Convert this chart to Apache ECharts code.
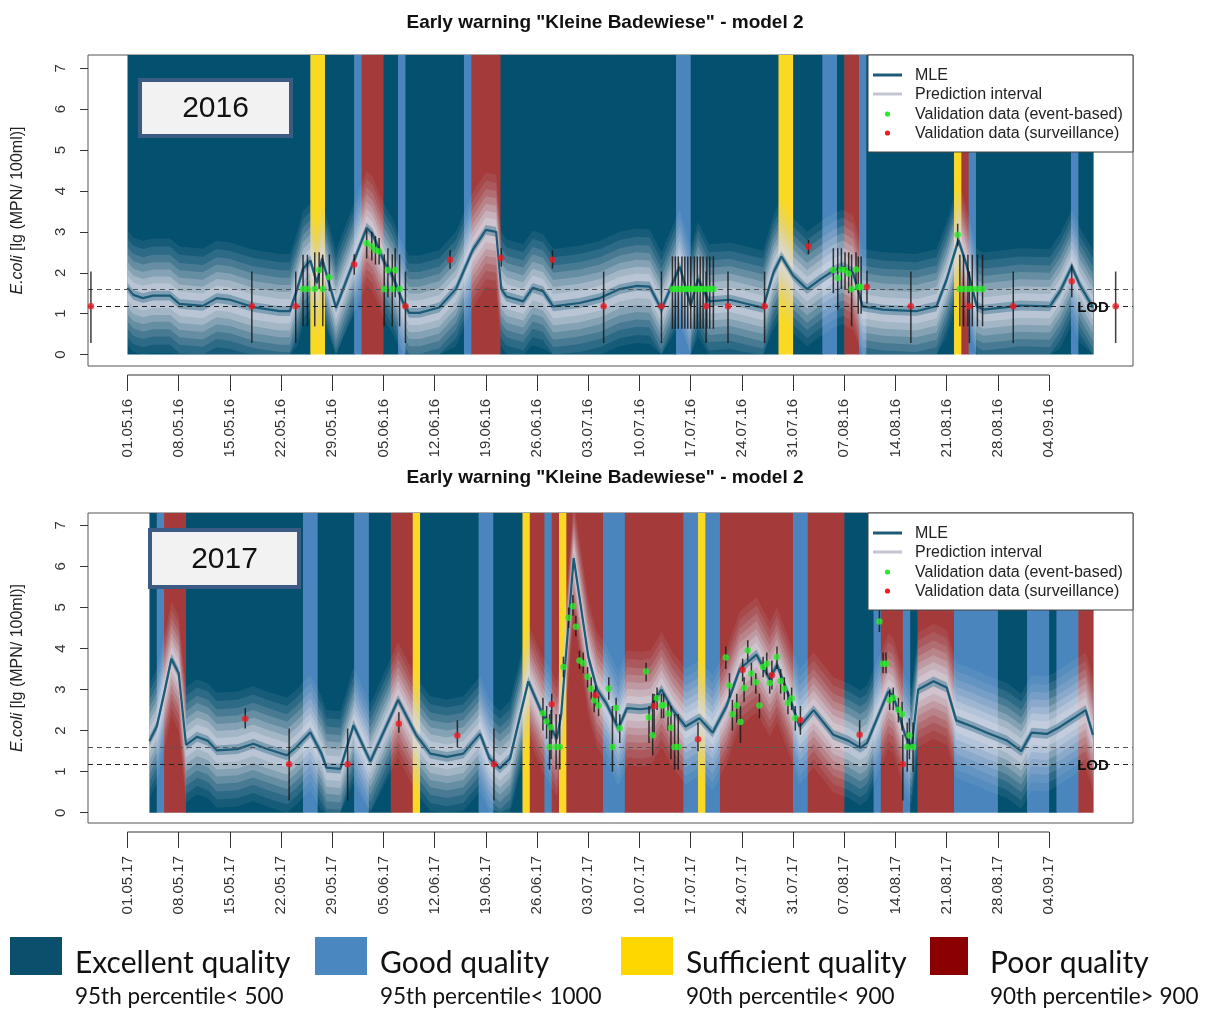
<!DOCTYPE html>
<html><head><meta charset="utf-8">
<script src="https://cdn.jsdelivr.net/npm/echarts@6/dist/echarts.min.js"></script>
<style>html,body{margin:0;padding:0;background:#fff}#c{width:1210px;height:1009px}</style>
</head><body><div id="c"></div>
<script>
// ---------------- DATA ----------------
const chartTitle = 'Early warning "Kleine Badewiese" - model 2';
const yearLabels = ['2016', '2017'];
const tickDays = [0, 7, 14, 21, 28, 35, 42, 49, 56, 63, 70, 77, 84, 91, 98, 105, 112, 119, 126];
const tickLabels2016 = ['01.05.16','08.05.16','15.05.16','22.05.16','29.05.16','05.06.16','12.06.16','19.06.16','26.06.16','03.07.16','10.07.16','17.07.16','24.07.16','31.07.16','07.08.16','14.08.16','21.08.16','28.08.16','04.09.16'];
const tickLabels2017 = ['01.05.17','08.05.17','15.05.17','22.05.17','29.05.17','05.06.17','12.06.17','19.06.17','26.06.17','03.07.17','10.07.17','17.07.17','24.07.17','31.07.17','07.08.17','14.08.17','21.08.17','28.08.17','04.09.17'];
const yTicks = [0, 1, 2, 3, 4, 5, 6, 7];
const refLines = [1.6, 1.18];          // upper dashed line, LOD line
const LOD = 1.18;

const classNames = ['Excellent quality', 'Good quality', 'Sufficient quality', 'Poor quality'];
const classNotes = ['95th percentile< 500', '95th percentile< 1000', '90th percentile< 900', '90th percentile> 900'];
const legendLabels = ['MLE', 'Prediction interval', 'Validation data (event-based)', 'Validation data (surveillance)'];

// quality class bands: [startDay, endDay, classIndex] (day 0 = 01.05.)
const bands2016 = [[0,25,0],[25,27,2],[27,31,0],[31,32,1],[32,35,3],[35,37,0],[37,38,1],[38,46,0],[46,47,1],[47,51,3],[51,75,0],[75,77,1],[77,89,0],[89,91,2],[91,95,0],[95,97,1],[97,98,0],[98,100,3],[100,101,1],[101,113,0],[113,114,2],[114,115,3],[115,116,1],[116,129,0],[129,130,1],[130,132,0]];
const bands2017 = [[3,4,0],[4,5,1],[5,8,3],[8,24,0],[24,26,1],[26,31,0],[31,33,1],[33,36,0],[36,39,3],[39,40,2],[40,48,0],[48,50,1],[50,54,0],[54,55,2],[55,57,3],[57,58,1],[58,59,3],[59,60,2],[60,65,3],[65,68,1],[68,76,3],[76,78,1],[78,79,2],[79,81,1],[81,91,3],[91,93,1],[93,98,3],[98,102,0],[102,103,1],[103,106,3],[106,107,1],[107,108,0],[108,113,3],[113,119,1],[119,123,0],[123,126,1],[126,127,0],[127,130,1],[130,132,3]];

// MLE: [day, lg value]
const mle2016 = [[0,1.63],[0.8,1.46],[2.1,1.38],[3.5,1.44],[5.8,1.44],[7.1,1.24],[10.3,1.19],[12.2,1.38],[14.0,1.34],[15.4,1.26],[17.2,1.16],[20.8,1.06],[22.2,1.06],[23.2,1.6],[24.0,2.1],[25.0,2.3],[25.9,1.75],[26.6,2.35],[28.5,1.15],[32.7,3.1],[33.5,2.95],[35.0,2.3],[36.3,1.9],[37.6,1.3],[38.5,1.02],[39.9,1.02],[42.6,1.15],[44.9,1.6],[47.2,2.56],[49.0,3.05],[50.4,3.0],[51.1,1.6],[51.8,1.42],[54.1,1.3],[55.4,1.63],[56.8,1.55],[58.2,1.18],[61.8,1.26],[64.6,1.38],[67.3,1.6],[69.6,1.68],[71.4,1.66],[73.0,1.1],[75.5,2.15],[77.0,1.2],[78.0,1.85],[79.5,1.3],[82.4,1.34],[84.2,1.26],[86.9,1.14],[88.3,2.0],[89.4,2.4],[91.0,1.93],[92.9,1.6],[94.7,1.84],[96.5,2.05],[97.8,2.15],[99.2,2.0],[100.5,1.18],[103.3,1.1],[107.8,1.06],[110.6,1.18],[112.0,1.84],[113.6,2.8],[114.7,2.2],[116.1,1.18],[117.0,1.1],[120.2,1.16],[122.0,1.2],[126.1,1.18],[127.5,1.55],[129.1,2.15],[130.2,1.7],[132.0,1.15]];
const mle2017 = [[3,1.75],[4,2.1],[5,2.9],[6,3.75],[7,3.4],[8,1.65],[9.5,1.85],[11,1.75],[12.2,1.52],[15,1.55],[17.2,1.68],[19,1.56],[21.8,1.4],[23.1,1.6],[25,1.96],[26.5,1.45],[27.2,1.1],[29.1,1.07],[30.9,2.13],[33.2,1.25],[37,2.75],[39.5,1.88],[41.4,1.44],[43.7,1.36],[45.9,1.44],[48.2,1.92],[49.5,1.32],[50.9,1.08],[52.3,1.32],[54.8,3.2],[56.6,2.45],[57.8,2.1],[58.7,1.8],[59.3,2.4],[61,6.2],[62,5.0],[63,3.8],[64.2,3.0],[65.5,2.65],[67.1,2.05],[68.3,2.55],[70.1,2.52],[71.5,2.55],[73,3.0],[74.6,2.49],[76.3,2.1],[78.2,2.3],[80,1.95],[81.9,2.6],[83.7,3.5],[86,3.85],[87.8,3.25],[88.8,3.6],[90.3,2.9],[91.9,2.1],[93.8,2.5],[96.5,1.9],[98.6,1.75],[100.2,1.58],[101.1,1.7],[104,2.95],[104.7,2.85],[106.3,1.9],[107.2,1.6],[108.1,3.0],[110.2,3.2],[112,3.05],[113.3,2.25],[115.5,2.1],[117.5,1.95],[120.2,1.76],[122.2,1.5],[123.6,1.95],[125.7,1.92],[127.1,2.05],[129.3,2.3],[131,2.5],[132,1.9]];

// validation data: [day, value, errLow, errHigh]
const event2016 = [[24.0,1.6,0.69,2.44],[24.6,1.6,0.69,2.44],[25.6,1.6,0.69,2.5],[26.2,2.07,1.6,2.5],[26.7,1.6,0.69,2.44],[27.6,1.89,1.55,2.45],
  [32.7,2.72,2.35,3.05],[33.4,2.65,2.3,3.0],[33.9,2.55,2.2,2.9],[34.4,2.52,2.2,2.85],
  [35.1,1.6,0.69,2.45],[35.6,2.07,1.4,2.6],[36.2,1.6,0.69,2.45],[36.6,2.07,1.4,2.6],[37.2,1.6,0.69,2.45],
  [74.5,1.6,0.63,2.4],[74.9,1.6,0.63,2.4],[75.3,1.6,0.63,2.4],[75.8,1.6,0.63,2.4],[76.2,1.6,0.63,2.4],[76.6,1.6,0.63,2.4],[77.0,1.6,0.63,2.4],[77.5,1.6,0.63,2.4],[77.9,1.6,0.63,2.4],[78.3,1.6,0.63,2.4],[78.7,1.6,0.63,2.4],[79.2,1.6,0.63,2.4],[79.6,1.6,0.63,2.4],[80.1,1.6,0.63,2.4],
  [96.5,2.07,1.5,2.6],[97.1,1.87,1.1,2.6],[97.6,2.08,1.6,2.6],[98.1,2.07,1.6,2.5],[98.6,1.98,1.5,2.5],[99.0,1.6,0.69,2.45],[99.6,2.08,1.6,2.5],[99.9,1.65,1.0,2.4],[100.3,1.65,1.0,2.4],
  [113.5,2.93,2.65,3.2],[113.8,1.6,0.69,2.44],[114.3,1.6,0.69,2.44],[114.9,1.6,0.69,2.44],[115.5,1.6,0.69,2.44],[116.2,1.6,0.69,2.44],[116.9,1.6,0.69,2.44]];
const surv2016 = [[-5.0,1.18,0.28,2.03],[17.0,1.18,0.28,2.03],[23.0,1.18,0.28,2.03],[31.0,2.2,1.95,2.45],[38.0,1.18,0.28,2.03],[44.1,2.32,2.1,2.55],[51.1,2.36,2.15,2.6],[58.1,2.32,2.1,2.55],[65.1,1.18,0.28,2.03],[73.0,1.18,0.28,2.03],[79.1,1.18,0.28,2.03],[82.1,1.18,0.28,2.03],[87.1,1.18,0.28,2.03],[93.1,2.64,2.45,2.8],[101.1,1.65,1.25,2.05],[107.1,1.18,0.28,2.03],[115.1,1.18,0.28,2.03],[121.1,1.18,0.28,2.03],[129.1,1.79,1.4,2.2],[135.1,1.18,0.28,2.03]];
const event2017 = [[56.8,2.42,2.0,2.8],[57.3,2.22,1.8,2.6],[57.9,2.08,1.3,2.5],[57.7,1.6,1.05,2.4],[58.6,1.6,1.05,2.4],[59.1,1.6,1.05,2.4],[59.6,3.55,3.3,3.8],[60.3,4.75,4.5,5.0],[60.9,5.03,4.8,5.3],[61.3,4.53,4.3,4.8],[61.8,3.71,3.5,3.95],[62.3,3.64,3.4,3.9],[62.9,3.31,3.05,3.55],[63.4,3.02,2.75,3.3],[63.8,2.74,2.45,3.0],[64.4,2.61,2.35,2.85],[65.8,3.02,2.75,3.3],[66.3,1.6,1.0,2.6],[66.8,2.55,2.2,2.8],[67.3,2.06,1.7,2.4],
  [70.9,3.44,3.2,3.65],[71.3,2.32,1.7,2.6],[71.8,1.89,1.4,2.9],[72.4,2.79,2.5,3.05],[73.0,2.61,2.3,2.9],[73.3,2.62,2.3,2.9],[73.9,2.41,2.0,2.7],[74.3,2.07,1.3,2.6],[74.8,1.6,1.05,2.4],[75.3,1.6,1.05,2.4],
  [81.8,3.78,3.5,4.05],[82.3,3.1,2.8,3.4],[82.7,2.4,2.0,2.75],[83.3,2.61,2.2,2.9],[83.8,2.21,1.7,2.6],[84.3,3.04,2.7,3.3],[84.8,3.95,3.7,4.2],[85.3,3.39,3.1,3.65],[85.9,3.18,2.9,3.4],[86.4,2.61,2.3,2.9],[86.9,3.55,3.3,3.8],[87.4,3.63,3.35,3.9],[87.8,3.16,2.9,3.4],[88.8,3.79,3.5,4.05],[89.3,3.21,2.9,3.5],[89.8,3.02,2.75,3.3],[90.3,2.67,2.4,2.95],[90.8,2.78,2.5,3.05],[91.3,2.31,2.0,2.6],
  [102.8,4.66,4.4,4.95],[103.3,3.63,3.4,3.9],[103.7,3.63,3.4,3.9],[104.2,2.74,2.5,3.0],[104.7,2.8,2.5,3.05],[105.4,2.51,2.2,2.8],[105.9,2.4,2.0,2.7],[106.9,1.88,1.3,2.3],[106.6,1.6,1.0,2.2],[107.4,1.6,1.0,2.2]];
const surv2017 = [[16.1,2.29,2.05,2.55],[22.1,1.18,0.3,2.05],[30.1,1.18,0.3,2.05],[37.1,2.17,1.95,2.45],[45.1,1.88,1.6,2.25],[50.1,1.18,0.3,2.05],[58.0,2.64,1.8,2.9],[64.0,2.86,2.6,3.1],[72.0,2.6,1.9,2.9],[78.0,1.79,1.5,2.2],[84.1,3.48,3.2,3.75],[88.1,3.35,3.0,3.7],[92.0,2.26,1.9,2.6],[100.1,1.9,1.6,2.25],[106.0,1.18,0.3,1.9]];

// ---------------- STYLE ----------------
const classColors = ['#03506F', '#4A86BD', '#FBD823', '#A43A3A'];
const legendColors = ['#0B4F6C', '#4A86BF', '#FFD700', '#8B0000'];
const FONT = '"Liberation Sans", Arial, sans-serif';
const X_MIN = -5.4, X_MAX = 137.47;
// visual shading of the prediction interval (nested translucent layers around the MLE)
const spreadLevels = [
  {w: 1.4, fill: 'rgba(200,204,220,0.10)'},
  {w: 1.2, fill: 'rgba(200,204,220,0.13)'},
  {w: 1.0, fill: 'rgba(205,208,222,0.17)'},
  {w: 0.82, fill: 'rgba(208,211,224,0.22)'},
  {w: 0.64, fill: 'rgba(212,214,226,0.28)'},
  {w: 0.47, fill: 'rgba(216,218,229,0.36)'},
  {w: 0.3, fill: 'rgba(218,220,230,0.42)'},
  {w: 0.12, fill: 'rgba(70,122,150,0.5)'}
];

const panels = [
  {top: 55, height: 311, yMin: -0.28, yMax: 7.325, bands: bands2016, mle: mle2016, ev: event2016, sv: surv2016, labels: tickLabels2016},
  {top: 513, height: 310, yMin: -0.25, yMax: 7.30, bands: bands2017, mle: mle2017, ev: event2017, sv: surv2017, labels: tickLabels2017}
];

const grids = [], xAxes = [], yAxes = [], series = [];
panels.forEach((p, g) => {
  grids.push({left: 88, width: 1045, top: p.top, height: p.height, show: true, borderColor: '#555', borderWidth: 1, backgroundColor: 'transparent'});
  xAxes.push({
    type: 'value', gridIndex: g, min: X_MIN, max: X_MAX, position: 'bottom', offset: 9,
    axisLine: {show: false, onZero: false}, splitLine: {show: false},
    axisTick: {show: true, customValues: tickDays, length: 16, lineStyle: {color: '#333', width: 1}},
    axisLabel: {customValues: tickDays, rotate: 90, margin: 24, fontSize: 15, color: '#333', fontFamily: FONT,
      formatter: v => p.labels[tickDays.indexOf(v)]}
  });
  yAxes.push({
    type: 'value', gridIndex: g, min: p.yMin, max: p.yMax, position: 'left',
    axisLine: {show: false, onZero: false}, splitLine: {show: false},
    axisTick: {show: true, customValues: yTicks, length: 8, lineStyle: {color: '#333'}},
    axisLabel: {customValues: yTicks, rotate: 90, margin: 20, fontSize: 15, color: '#333', fontFamily: FONT},
    name: '{i|E.coli} [lg (MPN/ 100ml)]', nameLocation: 'middle', nameGap: 62, nameRotate: 90,
    nameTextStyle: {fontSize: 16, color: '#222', fontFamily: FONT, rich: {i: {fontStyle: 'italic', fontSize: 16, color: '#222', fontFamily: FONT}}}
  });
  // quality class background
  series.push({
    type: 'custom', xAxisIndex: g, yAxisIndex: g, z: 1, silent: true, clip: true,
    data: p.bands, encode: {x: [0, 1], y: -1},
    renderItem: (params, api) => {
      const a = api.coord([api.value(0), 0]);
      const b = api.coord([api.value(1), p.yMax]);
      return {type: 'rect', shape: {x: a[0], y: b[1], width: b[0] - a[0] + 0.6, height: a[1] - b[1]},
        style: {fill: classColors[api.value(2)]}};
    }
  });
  // prediction interval shading
  series.push({
    type: 'custom', xAxisIndex: g, yAxisIndex: g, z: 2, silent: true, clip: true,
    data: [p.mle[0]],
    renderItem: (params, api) => {
      const children = spreadLevels.map(lv => {
        const pts = p.mle.map(q => api.coord([q[0], q[1] + lv.w]));
        for (let i = p.mle.length - 1; i >= 0; i--) {
          pts.push(api.coord([p.mle[i][0], Math.max(p.mle[i][1] - lv.w, 0)]));
        }
        return {type: 'polygon', shape: {points: pts}, style: {fill: lv.fill}};
      });
      return {type: 'group', children};
    }
  });
  // MLE line + reference lines + LOD label
  series.push({
    type: 'line', name: 'MLE', xAxisIndex: g, yAxisIndex: g, z: 4, silent: true,
    data: p.mle, showSymbol: false, lineStyle: {color: '#1B5B77', width: 2.2},
    markLine: {
      silent: true, symbol: ['none', 'none'], label: {show: false},
      data: [{yAxis: refLines[0], lineStyle: {color: '#555', type: [5, 4], width: 1.1}},
             {yAxis: refLines[1], lineStyle: {color: '#222', type: [5, 4], width: 1.1}}]
    },
    markPoint: {
      silent: true, symbol: 'circle', symbolSize: 1, itemStyle: {color: 'rgba(0,0,0,0)'},
      data: [{coord: [p.mle[p.mle.length - 1][0], LOD],
        label: {show: true, position: 'inside', formatter: 'LOD', fontWeight: 'bold', fontSize: 15, color: '#111', fontFamily: FONT, offset: [0, 2]}}]
    }
  });
  // error bars
  const allPts = p.ev.concat(p.sv);
  series.push({
    type: 'custom', xAxisIndex: g, yAxisIndex: g, z: 5, silent: true, clip: false,
    data: allPts, encode: {x: 0, y: 1},
    renderItem: (params, api) => {
      const a = api.coord([api.value(0), api.value(2)]);
      const b = api.coord([api.value(0), api.value(3)]);
      return {type: 'line', shape: {x1: a[0], y1: a[1], x2: b[0], y2: b[1]}, style: {stroke: '#1a1a1a', lineWidth: 1.5, opacity: 0.85}};
    }
  });
  series.push({type: 'scatter', name: legendLabels[2], xAxisIndex: g, yAxisIndex: g, z: 6, silent: true,
    data: p.ev.map(q => [q[0], q[1]]), symbolSize: 6.5, itemStyle: {color: '#2BEA2B'}});
  series.push({type: 'scatter', name: legendLabels[3], xAxisIndex: g, yAxisIndex: g, z: 7, silent: true,
    data: p.sv.map(q => [q[0], q[1]]), symbolSize: 6.5, itemStyle: {color: '#EE1C24'}});
});

// ---------------- GRAPHIC (legends, year boxes) ----------------
const graphics = [];
const legendTops = [55, 513];
legendTops.forEach(t => {
  const L = 868, W = 265, H = 97;
  graphics.push({type: 'rect', shape: {x: L, y: t, width: W, height: H}, style: {fill: '#fff', stroke: '#444', lineWidth: 1}, z: 100});
  const rows = [t + 20, t + 39, t + 59, t + 78];
  graphics.push({type: 'line', shape: {x1: 873, y1: rows[0], x2: 902, y2: rows[0]}, style: {stroke: '#1B5B77', lineWidth: 3}, z: 101});
  graphics.push({type: 'line', shape: {x1: 873, y1: rows[1], x2: 902, y2: rows[1]}, style: {stroke: '#C3C6D2', lineWidth: 3}, z: 101});
  graphics.push({type: 'circle', shape: {cx: 887.5, cy: rows[2], r: 2.6}, style: {fill: '#2BEA2B'}, z: 101});
  graphics.push({type: 'circle', shape: {cx: 887.5, cy: rows[3], r: 2.6}, style: {fill: '#EE1C24'}, z: 101});
  legendLabels.forEach((s, i) => {
    graphics.push({type: 'text', x: 915, y: rows[i] + 1, z: 101,
      style: {text: s, fontSize: 16, fontFamily: FONT, fill: '#222', verticalAlign: 'middle', align: 'left'}});
  });
});
const yearBoxes = [{x: 138, y: 78, w: 155, h: 60}, {x: 148, y: 528, w: 153, h: 61}];
yearBoxes.forEach((b, i) => {
  graphics.push({type: 'rect', shape: {x: b.x + 2, y: b.y + 2, width: b.w - 4, height: b.h - 4}, style: {fill: '#F2F2F2', stroke: '#3B5A84', lineWidth: 4}, z: 100});
  graphics.push({type: 'text', x: b.x + b.w / 2, y: b.y + b.h / 2 + 1, z: 101,
    style: {text: yearLabels[i], fontSize: 30, fontFamily: FONT, fill: '#111', align: 'center', verticalAlign: 'middle'}});
});
const legendXs = [10, 315, 621, 930];
classNames.forEach((n, i) => {
  const x = legendXs[i];
  graphics.push({type: 'rect', shape: {x: x, y: 937, width: i === 3 ? 38 : 52, height: 38}, style: {fill: legendColors[i]}, z: 100});
  graphics.push({type: 'text', x: x + (i === 3 ? 60 : 65), y: 963, z: 100,
    style: {text: n, fontSize: 30, fontFamily: 'Lato, "Open Sans", sans-serif', fill: '#111', verticalAlign: 'middle'}});
  graphics.push({type: 'text', x: x + (i === 3 ? 60 : 65), y: 997, z: 100,
    style: {text: classNotes[i], fontSize: 22.5, fontFamily: 'Lato, "Open Sans", sans-serif', fill: '#111', verticalAlign: 'middle'}});
});

const chart = echarts.init(document.getElementById('c'), null, {renderer: 'canvas'});
chart.setOption({
  backgroundColor: '#fff',
  animation: false,
  title: [
    {text: chartTitle, left: 'center', top: 8, textStyle: {fontSize: 19, fontWeight: 'bold', color: '#111', fontFamily: FONT}},
    {text: chartTitle, left: 'center', top: 463, textStyle: {fontSize: 19, fontWeight: 'bold', color: '#111', fontFamily: FONT}}
  ],
  grid: grids, xAxis: xAxes, yAxis: yAxes, series: series, graphic: graphics
});
// x-axis baseline spanning first to last tick (R style)
const extra = panels.map((p, g) => {
  const x1 = chart.convertToPixel({xAxisIndex: g}, tickDays[0]);
  const x2 = chart.convertToPixel({xAxisIndex: g}, tickDays[tickDays.length - 1]);
  const y = p.top + p.height + 9;
  return {type: 'line', shape: {x1: x1, y1: y, x2: x2, y2: y}, style: {stroke: '#333', lineWidth: 1}, z: 100};
});
chart.setOption({graphic: graphics.concat(extra)});
</script></body></html>
